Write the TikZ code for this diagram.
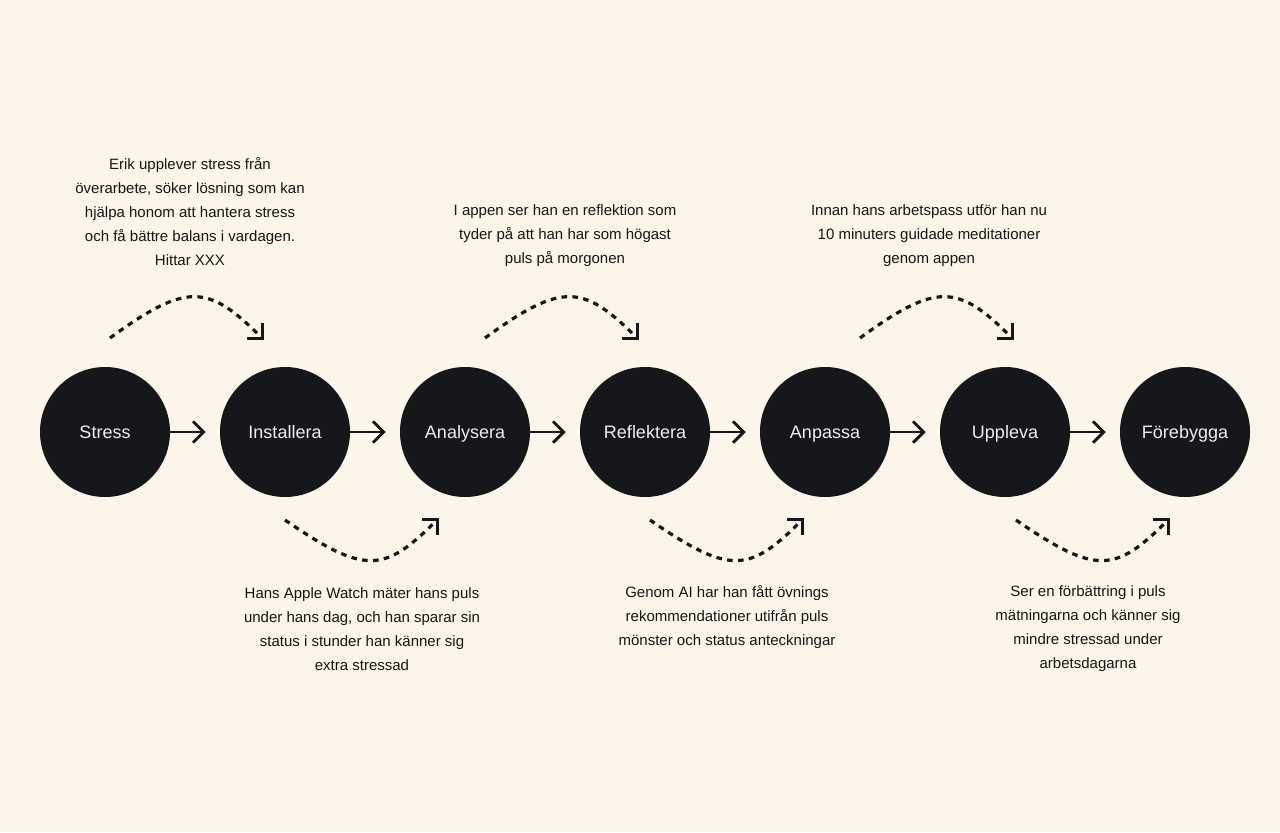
\documentclass[tikz,border=0pt]{standalone}
\usepackage{fontspec}
\setmainfont{Liberation Sans}
\usetikzlibrary{arrows.meta}
\definecolor{bg}{HTML}{FCF6EA}
\definecolor{ink}{HTML}{16171B}
\definecolor{lbl}{HTML}{EEEEEE}
\definecolor{txt}{HTML}{151515}
\tikzset{
  stage/.style={circle, fill=ink, minimum size=97.5pt, inner sep=0pt,
    text=lbl, font=\fontsize{13.5}{16}\selectfont,
    text height=9.7pt, text depth=0pt},
  note/.style={align=center, text=txt, inner sep=0pt,
    font=\fontsize{11.25}{18}\selectfont},
  flow/.style={draw=ink, line width=2.2pt,
    -{Straight Barb[length=8pt,width=16pt]}, shorten >=10.5pt},
  hop/.style={draw=ink, line width=2.4pt, dash pattern=on 4.2pt off 4pt,
    -{Straight Barb[length=8pt,width=16pt]}}
}
\begin{document}
\begin{tikzpicture}[x=0.75pt,y=-0.75pt]
\fill[bg] (0,0) rectangle (1280,832);
\useasboundingbox (0,0) rectangle (1280,832);

\node[stage] (s1) at (105,432) {Stress};
\node[stage] (s2) at (285,432) {Installera};
\node[stage] (s3) at (465,432) {Analysera};
\node[stage] (s4) at (645,432) {Reflektera};
\node[stage] (s5) at (825,432) {Anpassa};
\node[stage] (s6) at (1005,432) {Uppleva};
\node[stage] (s7) at (1185,432) {Förebygga};

\foreach \a/\b in {s1/s2,s2/s3,s3/s4,s4/s5,s5/s6,s6/s7}
  \draw[flow] (\a) -- (\b);

% top dashed hops
\foreach \i/\o in {1/0,2/375,3/750}{
  \coordinate (ta\i) at (110+\o,338);
  \coordinate (tb\i) at (264+\o,340);
  \draw[hop] (ta\i) .. controls +(77,-56) and +(-56,-56) .. (tb\i);
}
% bottom dashed hops
\foreach \i/\o in {1/0,2/365,3/731}{
  \coordinate (ba\i) at (285+\o,520);
  \coordinate (bb\i) at (439+\o,518);
  \draw[hop] (ba\i) .. controls +(80,55) and +(-55,55) .. (bb\i);
}

\node[note] (n1) at (190,212) {Erik upplever stress från\\överarbete, söker lösning som kan\\hjälpa honom att hantera stress\\och få bättre balans i vardagen.\\Hittar XXX};
\node[note] (n2) at (565,236) {I appen ser han en reflektion som\\tyder på att han har som högast\\puls på morgonen};
\node[note] (n3) at (929,236) {Innan hans arbetspass utför han nu\\10 minuters guidade meditationer\\genom appen};
\node[note] (n4) at (362,629) {Hans Apple Watch mäter hans puls\\under hans dag, och han sparar sin\\status i stunder han känner sig\\extra stressad};
\node[note] (n5) at (727,617) {Genom AI har han fått övnings\\rekommendationer utifrån puls\\mönster och status anteckningar};
\node[note] (n6) at (1088,629) {Ser en förbättring i puls\\mätningarna och känner sig\\mindre stressad under\\arbetsdagarna};
\end{tikzpicture}
\end{document}
